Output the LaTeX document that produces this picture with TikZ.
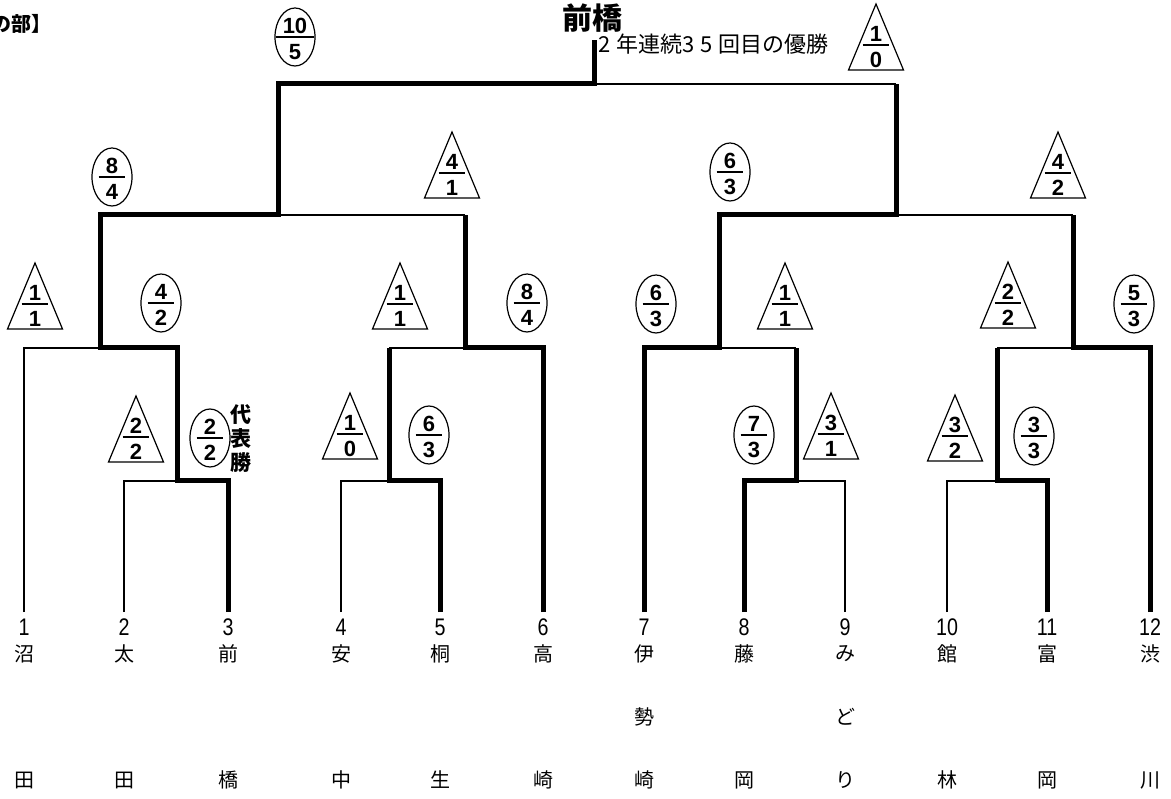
\documentclass[tikz,border=0pt]{standalone}
\usepackage{fontspec}
\setmainfont{Liberation Sans}
\newfontfamily\jp{Noto Sans CJK JP}
\newfontfamily\narrowf[FakeStretch=0.82]{Liberation Sans}
\usetikzlibrary{shapes.geometric}
\tikzset{
  thinline/.style={line width=1.6pt, line join=miter},
  thickline/.style={line width=5pt, line join=miter},
  cshape/.style={ellipse, draw, line width=1.2pt, minimum width=40pt, minimum height=58pt, inner sep=0pt},
  tshape/.style={line width=1.2pt, line join=miter},
  digit/.style={inner sep=0pt, font=\bfseries\fontsize{22}{22}\selectfont},
  bar/.style={line width=2.5pt},
  teamno/.style={inner sep=0pt, font=\narrowf\fontsize{24}{24}\selectfont},
  teamch/.style={inner sep=0pt, font=\jp\fontsize{20}{20}\selectfont},
}
\newcommand\fracdigits[3]{%
  \node[digit, anchor=base] (#1t) at ([yshift=3.5pt]#1.center) {#2};
  \node[digit, anchor=base] (#1b) at ([yshift=-22.5pt]#1.center) {#3};
  \draw[bar] ([xshift=-7pt]#1t.west |- #1.center) -- ([xshift=7pt]#1t.east |- #1.center);
}
\newcommand\cscore[5]{%
  \node[cshape] (#1) at (#2,#3) {};
  \fracdigits{#1}{#4}{#5}%
}
\newcommand\tscore[5]{%
  \coordinate (#1) at (#2,#3);
  \draw[tshape] ([yshift=41pt]#1) -- ([xshift=-27.5pt,yshift=-25pt]#1) -- ([xshift=27.5pt,yshift=-25pt]#1) -- cycle;
  \fracdigits{#1}{#4}{#5}%
}
\begin{document}
\begin{tikzpicture}[x=1pt, y=-1pt]
\useasboundingbox (0,0) rectangle (1171,799);

% titles
\node[inner sep=0pt, anchor=east, font=\jp\bfseries\fontsize{20}{20}\selectfont] (bu) at (52,24) {の部】};
\node[inner sep=0pt, font=\jp\bfseries\fontsize{30}{30}\selectfont] (champname) at (592,18) {前橋};
\node[inner sep=0pt, anchor=west, font=\jp\fontsize{22}{22}\selectfont] (note) at (598,44) {2\hspace{6pt}年連続3\hspace{6pt}5\hspace{6pt}回目の優勝};
\node[inner sep=0pt, align=center, font=\jp\bfseries\fontsize{21}{24}\selectfont] (dai) at (241,439) {代\\表\\勝};

% teams
\foreach \i/\x/\a/\c in {1/24/沼/田, 2/124/太/田, 3/228/前/橋, 4/341/安/中, 5/440/桐/生, 6/543/高/崎,
  7/644/伊/崎, 8/744/藤/岡, 9/845/み/り, 10/947/館/林, 11/1047/富/岡, 12/1150/渋/川}{
  \coordinate (t\i) at (\x,612);
  \node[teamno] (n\i) at (\x,627) {\i};
  \node[teamch] (a\i) at (\x,654) {\a};
  \node[teamch] (c\i) at (\x,780) {\c};
}
\node[teamch] (b7) at (644,717) {勢};
\node[teamch] (b9) at (845,717) {ど};

% junctions
\coordinate (j23) at (177,481);
\coordinate (jA) at (100,348);
\coordinate (j45) at (389,481);
\coordinate (jB) at (465,348);
\coordinate (jS1) at (278,215);
\coordinate (jF) at (594,84);
\coordinate (champ) at (594,40);
\coordinate (j89) at (796,481);
\coordinate (jC) at (719,348);
\coordinate (j1011) at (997,481);
\coordinate (jD) at (1073,348);
\coordinate (jS2) at (896,215);

% thin (losing) lines
\draw[thinline] (t1) |- (jA);
\draw[thinline] (t2) |- (j23);
\draw[thinline] (t4) |- (j45);
\draw[thinline] (j45 |- jB) -- (jB);
\draw[thinline] (jB |- jS1) -- (jS1);
\draw[thinline] (t9) |- (j89);
\draw[thinline] (j89 |- jC) -- (jC);
\draw[thinline] (t10) |- (j1011);
\draw[thinline] (j1011 |- jD) -- (jD);
\draw[thinline] (jD |- jS2) -- (jS2);
\draw[thinline] (jS2 |- jF) -- (jF);

% thick (winning) lines
\draw[thickline] (t3) |- (j23) |- (jA) |- (jS1) |- (jF) -- (champ);
\draw[thickline] (t5) |- (j45) -- (j45 |- jB);
\draw[thickline] (t6) |- (jB) -- (jB |- jS1);
\draw[thickline] (t7) |- (jC) |- (jS2) -- (jS2 |- jF);
\draw[thickline] (t8) |- (j89) -- (j89 |- jC);
\draw[thickline] (t11) |- (j1011) -- (j1011 |- jD);
\draw[thickline] (t12) |- (jD) -- (jD |- jS2);

% scores: circles
\cscore{s1}{295}{37}{10}{5}
\cscore{s2}{112}{177}{8}{4}
\cscore{s3}{730}{172}{6}{3}
\cscore{s4}{161}{303}{4}{2}
\cscore{s5}{527}{303}{8}{4}
\cscore{s6}{656}{304}{6}{3}
\cscore{s7}{1134}{304}{5}{3}
\cscore{s8}{210}{438}{2}{2}
\cscore{s9}{429}{435}{6}{3}
\cscore{s10}{754}{435}{7}{3}
\cscore{s11}{1034}{436}{3}{3}

% scores: triangles
\tscore{r1}{876}{45}{1}{0}
\tscore{r2}{452}{173}{4}{1}
\tscore{r3}{1058}{173}{4}{2}
\tscore{r4}{35}{304}{1}{1}
\tscore{r5}{400}{304}{1}{1}
\tscore{r6}{785}{304}{1}{1}
\tscore{r7}{1008}{303}{2}{2}
\tscore{r8}{136}{437}{2}{2}
\tscore{r9}{350}{434}{1}{0}
\tscore{r10}{831}{434}{3}{1}
\tscore{r11}{955}{436}{3}{2}
\end{tikzpicture}
\end{document}
